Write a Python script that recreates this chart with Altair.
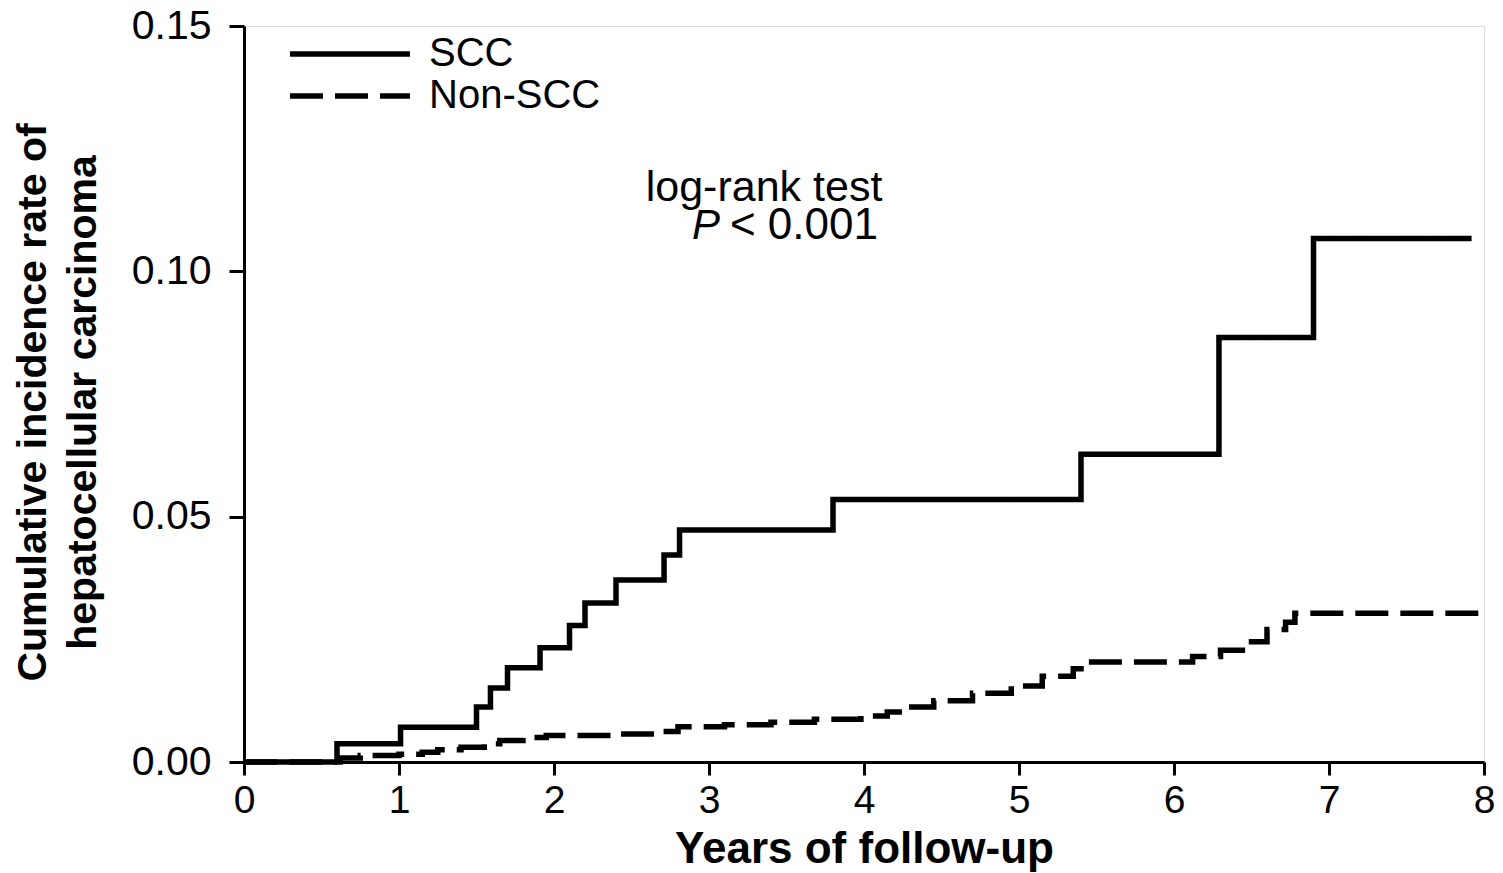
import altair as alt
import pandas as pd

# ---- data ----
scc_t = [0, 0.60, 1.01, 1.50, 1.59, 1.70, 1.91, 2.10, 2.20, 2.40, 2.71, 2.81, 3.80, 5.40, 6.29, 6.90, 7.92]
scc_v = [0, 0.0037, 0.0071, 0.0112, 0.0151, 0.0192, 0.0233, 0.0278, 0.0324, 0.0371, 0.0422, 0.0473,
         0.0535, 0.0627, 0.0865, 0.1067, 0.1067]

non_t = [0, 0.62, 0.75, 1.00, 1.15, 1.25, 1.40, 1.55, 1.65, 1.80, 1.95, 2.40, 2.65, 2.80, 3.10, 3.40,
         3.68, 3.98, 4.15, 4.25, 4.45, 4.70, 4.95, 5.15, 5.35, 5.45, 6.12, 6.30, 6.50, 6.60, 6.72, 6.78, 8.00]
non_v = [0, 0.0008, 0.0013, 0.0016, 0.0020, 0.0025, 0.0030, 0.0037, 0.0044, 0.0050, 0.0054, 0.0057,
         0.0062, 0.0072, 0.0076, 0.0081, 0.0087, 0.0094, 0.0102, 0.0112, 0.0125, 0.0140, 0.0155, 0.0175,
         0.0190, 0.0204, 0.0215, 0.0228, 0.0245, 0.0270, 0.0285, 0.0303, 0.0303]

groups = ["SCC", "Non-SCC"]
x_ticks = [0, 1, 2, 3, 4, 5, 6, 7, 8]
y_ticks = [0.00, 0.05, 0.10, 0.15]

note_text = ["log-rank test", "P", "< 0.001"]
note_t = [3.355, 3.071, 3.135]
note_v = [0.1143, 0.1065, 0.1065]
note_kind = ["center", "italic", "left"]

FONT = "Liberation Sans"

df = pd.concat([
    pd.DataFrame({"t": scc_t, "v": scc_v, "group": groups[0]}),
    pd.DataFrame({"t": non_t, "v": non_v, "group": groups[1]}),
])
notes = pd.DataFrame({"text": note_text, "t": note_t, "v": note_v, "kind": note_kind})

xscale = alt.Scale(domain=[0, 8], nice=False, zero=True)
yscale = alt.Scale(domain=[0, 0.15], nice=False)

lines = alt.Chart(df).mark_line(interpolate="step-after", strokeWidth=5.5, color="black",
                                strokeCap="butt", strokeJoin="miter").encode(
    x=alt.X("t:Q", scale=xscale,
            axis=alt.Axis(title="Years of follow-up", values=x_ticks, format="d",
                          titleFontSize=44, titleFontWeight="bold", titleFont=FONT,
                          titleY=100, titleBaseline="alphabetic", titleColor="black",
                          labelFontSize=39, labelFont=FONT, labelColor="black",
                          labelPadding=6, tickSize=13, tickWidth=3, tickColor="black",
                          domainWidth=3, domainColor="black", grid=False, labelFlush=False)),
    y=alt.Y("v:Q", scale=yscale,
            axis=alt.Axis(title=["Cumulative incidence rate of", "hepatocellular carcinoma"],
                          values=y_ticks, format=".2f",
                          titleFontSize=41, titleFontWeight="bold", titleFont=FONT,
                          titleX=-211, titleY=376, titleBaseline="middle", titleAlign="center",
                          titleAngle=-90, titleLineHeight=50, titleColor="black",
                          labelFontSize=41, labelFont=FONT, labelColor="black",
                          labelPadding=18, tickSize=15, tickWidth=3, tickColor="black",
                          domainWidth=3, domainColor="black", grid=False, labelFlush=False)),
    strokeDash=alt.StrokeDash("group:N",
                              scale=alt.Scale(domain=groups, range=[[1, 0], [33, 12]]),
                              legend=alt.Legend(title=None, orient="none", legendX=86, legendY=8,
                                                symbolType="M-6,0H6", symbolSize=400,
                                                symbolStrokeWidth=5.5, symbolStrokeColor="black",
                                                symbolFillColor="transparent",
                                                labelFontSize=40, labelFont=FONT, labelColor="black",
                                                labelOffset=59, labelLimit=600, rowPadding=2,
                                                padding=0)),
    detail="group:N",
)

base_notes = alt.Chart(notes).encode(
    x=alt.X("t:Q", scale=xscale), y=alt.Y("v:Q", scale=yscale), text="text:N")

t_center = base_notes.transform_filter(alt.datum.kind == "center").mark_text(
    fontSize=43, font=FONT, color="black", align="center", baseline="alphabetic")
t_italic = base_notes.transform_filter(alt.datum.kind == "italic").mark_text(
    fontSize=42, font=FONT, fontStyle="italic", color="black", align="right", baseline="alphabetic")
t_left = base_notes.transform_filter(alt.datum.kind == "left").mark_text(
    fontSize=44, font=FONT, color="black", align="left", baseline="alphabetic")

chart = alt.layer(lines, t_center, t_italic, t_left).properties(
    width=1240, height=736,
    autosize=alt.AutoSizeParams(type="none"),
    padding={"left": 236, "top": 18, "right": 11, "bottom": 111},
).configure_view(stroke=None).configure(background="white")

chart.save("out.html", embed_options={"renderer": "svg", "actions": False})
